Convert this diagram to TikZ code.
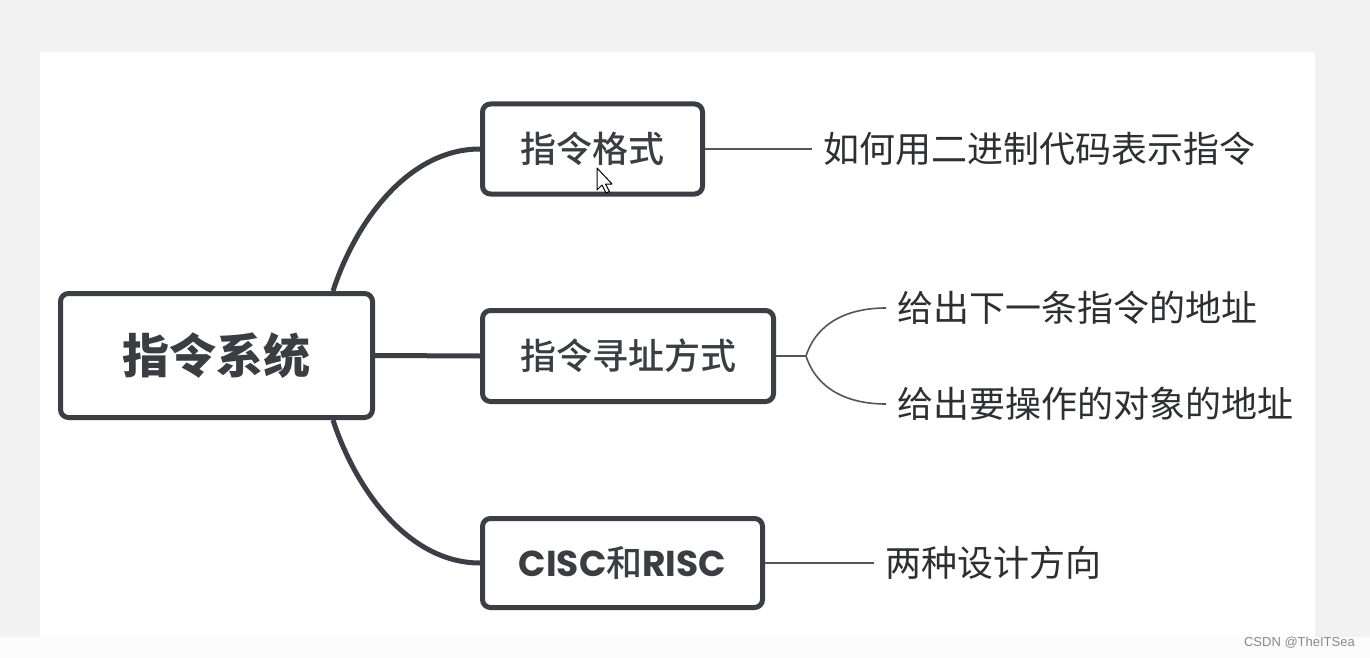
\documentclass[tikz,border=0pt]{standalone}
\usepackage{fontspec}
\newfontfamily\cjk{Noto Sans CJK SC}
\newfontfamily\cjkm{Noto Sans CJK SC Medium}
\newfontfamily\pop{Poppins}
\newfontfamily\wm{Liberation Sans}
\definecolor{bggray}{HTML}{F2F2F2}
\definecolor{bgbot}{HTML}{FBFBFB}
\definecolor{boxline}{HTML}{3B3E44}
\definecolor{boxtext}{HTML}{3A3D42}
\definecolor{leaftext}{HTML}{2E2F33}
\definecolor{thinline}{HTML}{555555}
\definecolor{wmgray}{HTML}{8A8A8A}
\tikzset{
  mainbox/.style={draw=boxline, line width=5pt, rounded corners=8pt, fill=white,
    inner sep=0pt, text=boxtext, font=\cjkm\fontsize{36}{40}\selectfont},
  rootbox/.style={mainbox, font=\cjk\bfseries\fontsize{47}{52}\selectfont},
  leaf/.style={anchor=west, inner xsep=11pt, inner ysep=0pt, text=leaftext,
    font=\cjk\fontsize{36}{40}\selectfont},
  thick link/.style={draw=boxline, line width=5pt},
  thin link/.style={draw=thinline, line width=1.6pt},
}
\begin{document}
\begin{tikzpicture}[x=1pt,y=-1pt]
\useasboundingbox (0,0) rectangle (1370,658);
\fill[bggray] (0,0) rectangle (1370,658);
\fill[bgbot] (0,637) rectangle (1370,658);
\fill[white] (40,52) rectangle (1315,637);

\node[rootbox, minimum width=312pt, minimum height=124pt] (root) at (216.5,355.5) {指令系统};
\node[mainbox, minimum width=220pt, minimum height=90pt] (b1) at (592.5,149) {指令格式};
\node[mainbox, minimum width=291pt, minimum height=91pt] (b2) at (628,356) {指令寻址方式};
\node[mainbox, minimum width=280pt, minimum height=89pt] (b3) at (622.5,563) {{\pop\bfseries CISC}和{\pop\bfseries RISC}};

\draw[thick link] ([xshift=116.5pt]root.north) to[out=72,in=180,looseness=0.9] (b1.west);
\draw[thick link] (root.east) -- (b2.west);
\draw[thick link] ([xshift=116.5pt]root.south) to[out=-72,in=180,looseness=0.9] (b3.west);

% leaves
\node[leaf] (l1) at (812,149) {如何用二进制代码表示指令};
\node[leaf] (l2a) at (886,308) {给出下一条指令的地址};
\node[leaf] (l2b) at (886,404) {给出要操作的对象的地址};
\node[leaf] (l3) at (874,563) {两种设计方向};

\coordinate (fork) at (806,356);
\draw[thin link] (b1.east) -- (b1.east -| l1.west);
\draw[thin link] (b2.east) -- (fork);
\draw[thin link] (fork) to[out=72,in=180] (l2a.west);
\draw[thin link] (fork) to[out=-72,in=180] (l2b.west);
\draw[thin link] (b3.east) -- (b3.east -| l3.west);

% mouse cursor
\draw[black, line width=1pt, fill=white, line join=round]
  (597,168) -- (597,190) -- (602,185) -- (606,193) -- (609.5,191.5) -- (605.5,184) -- (612,184) -- cycle;

\node[anchor=east, inner sep=0pt, text=wmgray, font=\wm\fontsize{13}{15}\selectfont] (wm) at (1355,643) {CSDN @TheITSea};
\end{tikzpicture}
\end{document}
